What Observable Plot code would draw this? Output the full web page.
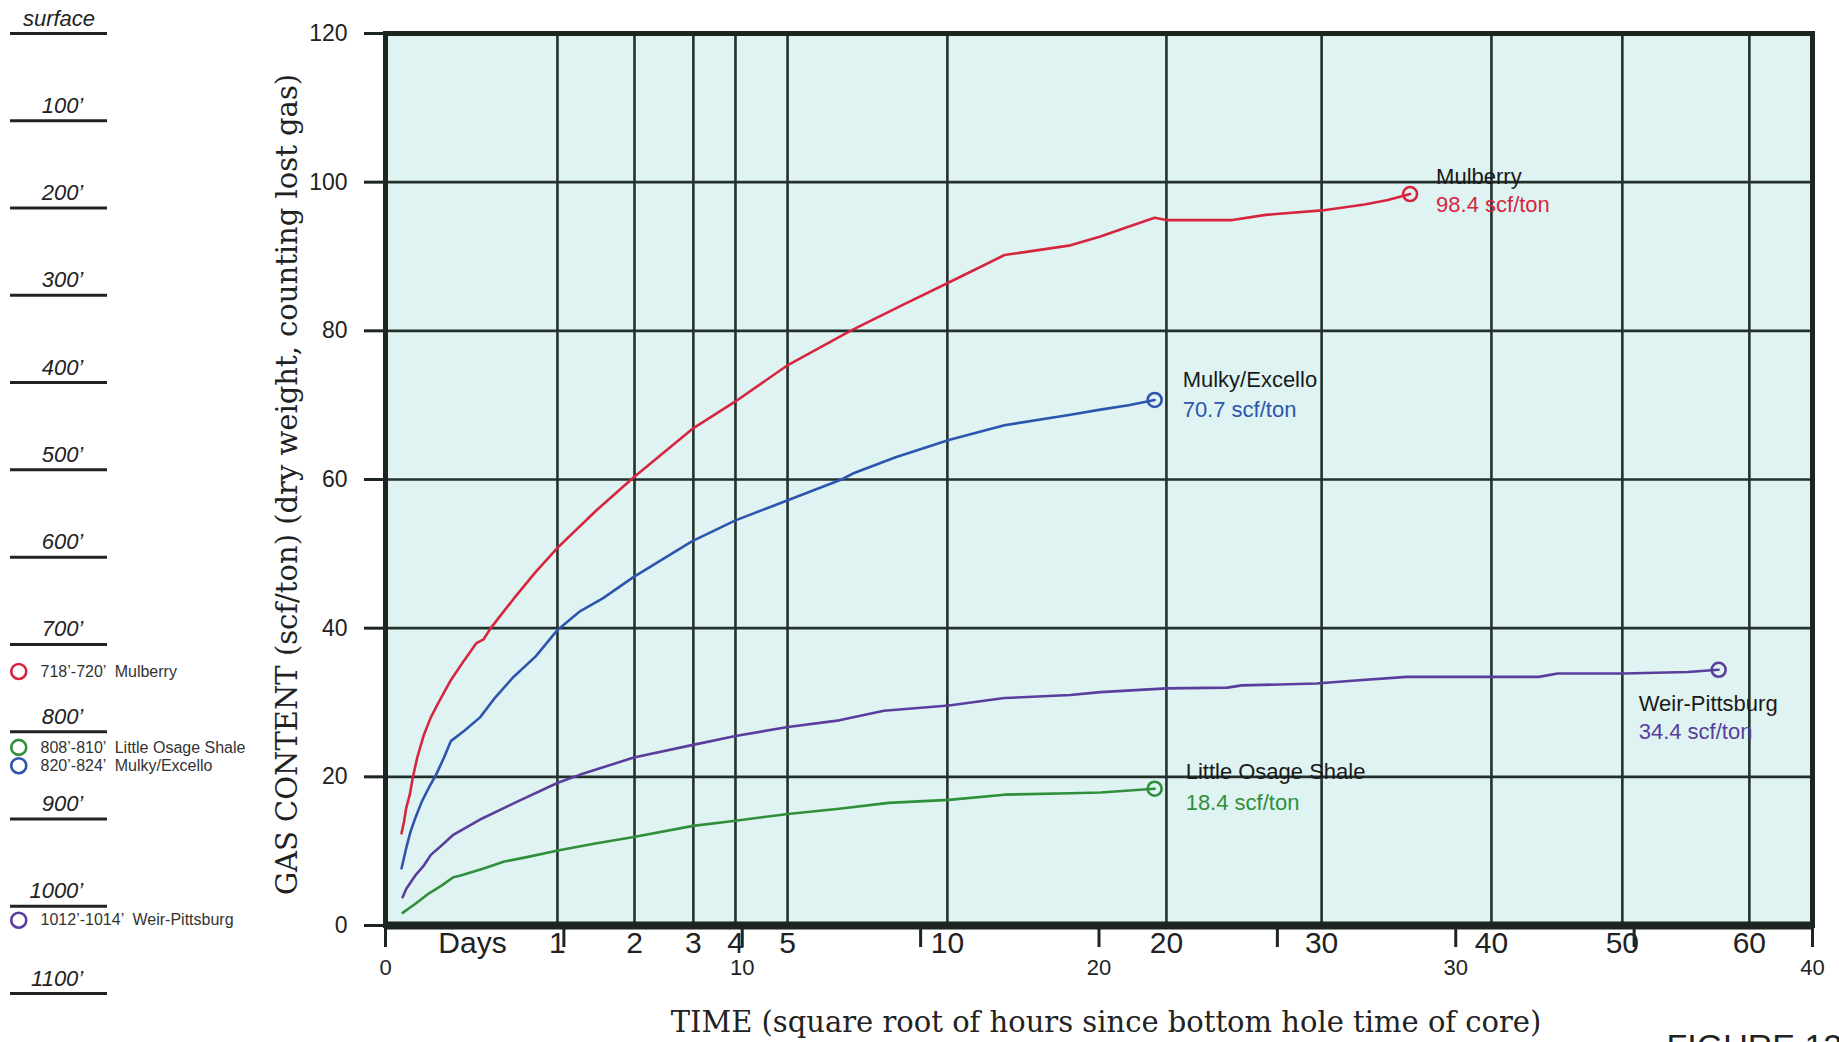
<!DOCTYPE html>
<html><head><meta charset="utf-8">
<script src="https://cdn.jsdelivr.net/npm/d3@7"></script>
<script src="https://cdn.jsdelivr.net/npm/@observablehq/plot@0.6"></script>
<style>
html,body{margin:0;padding:0;background:#fff;overflow:hidden;}
#wrap{position:relative;width:1839px;height:1042px;overflow:hidden;background:#fff;}
#wrap svg{position:absolute;left:0;top:0;}
</style></head><body><div id="wrap"></div>
<script>
// ---- data (x = square root of hours, y = scf/ton) ----
const mulberry = [[0.45,12.4],[0.52,14.0],[0.58,15.8],[0.68,17.6],[0.77,20.0],[0.89,22.6],[1.08,25.7],[1.27,28.0],[1.52,30.3],[1.83,33.0],[2.21,35.7],[2.55,38.0],[2.75,38.5],[2.95,40.0],[3.6,44.0],[4.2,47.5],[4.82,50.8],[5.9,55.8],[6.96,60.3],[8.6,66.8],[9.81,70.5],[11.28,75.4],[13.03,80.0],[14.5,83.5],[15.79,86.5],[17.35,90.2],[19.2,91.5],[20.04,92.7],[20.7,93.8],[21.56,95.2],[21.89,94.9],[23.74,94.9],[24.67,95.6],[26.25,96.2],[27.44,97.0],[28.1,97.6],[28.72,98.4]];
const mulky = [[0.45,7.7],[0.58,10.4],[0.70,12.6],[0.83,14.4],[1.02,16.7],[1.21,18.5],[1.42,20.3],[1.64,22.6],[1.83,24.8],[2.21,26.2],[2.65,28.0],[3.08,30.7],[3.58,33.4],[4.21,36.2],[4.83,39.8],[5.46,42.3],[6.09,44.0],[6.96,46.9],[8.6,51.7],[9.81,54.5],[10.95,56.6],[12.78,60.0],[13.1,60.8],[14.3,63.0],[15.79,65.3],[17.35,67.3],[19.2,68.7],[20.04,69.4],[20.83,70.0],[21.56,70.7]];
const weir = [[0.48,3.8],[0.58,4.9],[0.83,6.7],[1.08,8.1],[1.27,9.5],[1.58,10.8],[1.9,12.2],[2.71,14.4],[3.71,16.7],[4.83,19.2],[5.46,20.3],[6.96,22.6],[8.62,24.3],[9.81,25.5],[11.28,26.7],[12.72,27.6],[13.97,28.9],[15.79,29.6],[17.35,30.6],[19.2,31.0],[20.04,31.4],[21.89,31.9],[23.6,32.0],[24.0,32.3],[26.1,32.55],[27.0,32.9],[28.62,33.45],[31.0,33.45],[32.33,33.45],[32.86,33.9],[34.7,33.9],[36.5,34.1],[37.37,34.4]];
const osage = [[0.48,1.7],[0.83,2.9],[1.21,4.3],[1.58,5.4],[1.9,6.5],[2.08,6.7],[2.71,7.6],[3.33,8.6],[3.96,9.2],[4.83,10.1],[5.84,11.0],[6.96,11.9],[8.62,13.4],[9.81,14.1],[11.28,15.0],[12.72,15.7],[14.1,16.5],[15.79,16.9],[17.35,17.6],[19.2,17.8],[20.04,17.9],[21.56,18.4]];

const seriesNames = ["Mulberry", "Mulky/Excello", "Little Osage Shale", "Weir-Pittsburg"];
const seriesTotals = ["98.4 scf/ton", "70.7 scf/ton", "18.4 scf/ton", "34.4 scf/ton"];

const yTicks = [0, 20, 40, 60, 80, 100, 120];
const xTicks = [0, 5, 10, 15, 20, 25, 30, 35, 40];
const dayLabels = ["1", "2", "3", "4", "5", "10", "20", "30", "40", "50", "60"];
const dayPositions = [4.82, 6.98, 8.63, 9.81, 11.27, 15.75, 21.89, 26.24, 31.0, 34.67, 38.23];

// depth column (feet)
const depthMarks = [0, 100, 200, 300, 400, 500, 600, 700, 800, 900, 1000, 1100];
const legendRanges = ["718’-720’", "808’-810’", "820’-824’", "1012’-1014’"];
const legendNames = ["Mulberry", "Little Osage Shale", "Mulky/Excello", "Weir-Pittsburg"];
const legendDepths = [731, 818, 839, 1016];

// ---- styles ----
const colors = {"Mulberry": "#d6263f", "Mulky/Excello": "#2d55ae", "Little Osage Shale": "#2f8f3b", "Weir-Pittsburg": "#5a3d9c"};
const labelOffsets = {
  "Mulberry": {dx: 26, dyName: -10, dyVal: 18},
  "Mulky/Excello": {dx: 28, dyName: -13, dyVal: 17},
  "Little Osage Shale": {dx: 31, dyName: -10, dyVal: 21},
  "Weir-Pittsburg": {dx: -80, dyName: 41, dyVal: 69}
};
const series = {"Mulberry": mulberry, "Mulky/Excello": mulky, "Little Osage Shale": osage, "Weir-Pittsburg": weir};
const ink = "#1d2520";
const gridInk = "#24302b";
const serif = "'DejaVu Serif', 'Liberation Serif', serif";

const marks = [
  Plot.frame({fill: "#dff4f2", stroke: "none"}),
  Plot.ruleY(yTicks.slice(1, -1), {stroke: gridInk, strokeWidth: 2.6}),
  Plot.ruleX(dayPositions, {stroke: gridInk, strokeWidth: 2.6}),
  Plot.frame({stroke: ink, strokeWidth: 5}),
  Plot.ruleY([0], {stroke: ink, strokeWidth: 8}),
  Plot.axisY({ticks: yTicks, tickSize: 21, tickPadding: 17, fontSize: 23, strokeWidth: 3, stroke: ink, fill: "#222", label: null}),
  Plot.axisX({ticks: xTicks, tickSize: 22, tickPadding: 12, fontSize: 22, strokeWidth: 3, stroke: ink, fill: "#222", label: null, tickFormat: d => d % 10 === 0 ? String(d) : ""}),
  Plot.text(dayLabels, {x: (d, i) => dayPositions[i], y: 0, text: d => d, dy: 18, lineAnchor: "middle", fontSize: 30, fill: "#222"}),
  Plot.text(["Days"], {frameAnchor: "bottom-left", dx: 87, dy: 18, textAnchor: "middle", lineAnchor: "middle", fontSize: 30, fill: "#222", text: d => d}),
  Plot.text(["TIME (square root of hours since bottom hole time of core)"], {frameAnchor: "bottom", dx: 7, dy: 106, textAnchor: "middle", lineAnchor: "bottom", text: d => d, fontSize: 29, fontFamily: serif, fill: "#222", ariaLabel: "xtitle"}),
  Plot.text(["GAS CONTENT (scf/ton) (dry weight, counting lost gas)"], {frameAnchor: "left", dx: -98, dy: 5, rotate: -90, textAnchor: "middle", lineAnchor: "middle", text: d => d, fontSize: 29, fontFamily: serif, fill: "#222", ariaLabel: "ytitle"}),
  Plot.text(["FIGURE 12"], {frameAnchor: "bottom-right", dx: -146, dy: 132, lineAnchor: "bottom", textAnchor: "start", text: d => d, fontSize: 34, fill: "#222"})
];

seriesNames.forEach((name, i) => {
  const pts = series[name];
  const last = pts[pts.length - 1];
  const off = labelOffsets[name];
  marks.push(
    Plot.line(pts, {x: d => d[0], y: d => d[1], stroke: colors[name], strokeWidth: 2.6}),
    Plot.dot([last], {x: d => d[0], y: d => d[1], r: 7, stroke: colors[name], strokeWidth: 2.6, fill: "none"}),
    Plot.text([last], {x: d => d[0], y: d => d[1], text: () => name, dx: off.dx, dy: off.dyName, lineAnchor: "bottom", textAnchor: "start", fontSize: 22, fill: "#1a1a1a"}),
    Plot.text([last], {x: d => d[0], y: d => d[1], text: () => seriesTotals[i], dx: off.dx, dy: off.dyVal, lineAnchor: "bottom", textAnchor: "start", fontSize: 22, fill: colors[name]})
  );
});

const main = Plot.plot({
  width: 1839, height: 1042,
  marginLeft: 385, marginRight: 27, marginTop: 33, marginBottom: 117,
  x: {domain: [0, 40], axis: null},
  y: {domain: [0, 120], axis: null},
  style: {fontFamily: "'Liberation Sans', Arial, sans-serif", background: "transparent", overflow: "visible"},
  marks
});

const legendColorList = legendNames.map(n => colors[n]);
const legendMarks = [
  Plot.ruleY(depthMarks, {y: d => d, x1: 0, x2: 1, stroke: "#222", strokeWidth: 3}),
  Plot.text(depthMarks.filter(d => d > 0), {y: d => d, x: 0.75, text: d => `${d}’`, textAnchor: "end", lineAnchor: "bottom", dy: -8, fontSize: 22, fontStyle: "italic", fill: "#222"}),
  Plot.text(["surface"], {y: 0, x: 0.5, text: d => d, textAnchor: "middle", lineAnchor: "bottom", dy: -8, fontSize: 22, fontStyle: "italic", fill: "#222"})
];
legendNames.forEach((n, i) => {
  legendMarks.push(
    Plot.dot([legendDepths[i]], {y: d => d, x: 0.085, r: 7.5, stroke: legendColorList[i], strokeWidth: 2.6, fill: "none"}),
    Plot.text([legendDepths[i]], {y: d => d, x: 0.31, text: () => `${legendRanges[i]}  ${n}`, textAnchor: "start", lineAnchor: "middle", fontSize: 16, fill: "#333"})
  );
});
const depthPlot = Plot.plot({
  width: 250, height: 1042,
  marginTop: 33, marginBottom: 49, marginLeft: 10, marginRight: 143,
  x: {domain: [0, 1], axis: null},
  y: {domain: [0, 1100], reverse: true, axis: null},
  style: {fontFamily: "'Liberation Sans', Arial, sans-serif", background: "transparent", overflow: "visible"},
  marks: legendMarks
});

const wrap = document.getElementById("wrap");
wrap.appendChild(depthPlot);
wrap.appendChild(main);

// fit the serif axis titles to the reference text lengths by font size
function fitText(label, target) {
  const t = main.querySelector(`g[aria-label="${label}"] text`);
  if (!t) return;
  const len = t.getComputedTextLength();
  if (len > 0) {
    const fs = 29 * target / len;
    t.setAttribute("font-size", fs);
    t.style.fontSize = fs + "px";
  }
}
fitText("xtitle", 856);
fitText("ytitle", 828);
</script></body></html>
